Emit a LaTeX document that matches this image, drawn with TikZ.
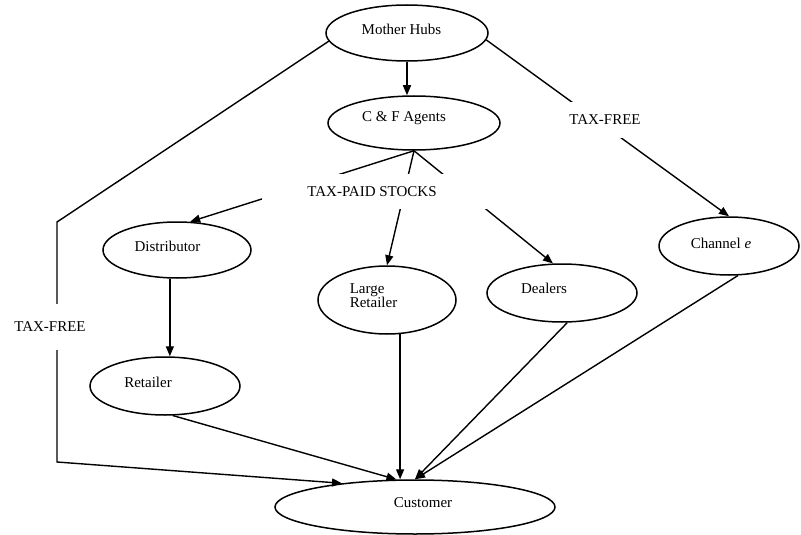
\documentclass[tikz,border=0pt]{standalone}
\usepackage{fontspec}
\setmainfont{Liberation Serif}
\usetikzlibrary{shapes.geometric,arrows.meta}
\begin{document}
\begin{tikzpicture}[x=1pt,y=-1pt,
  ell/.style={draw, ellipse, line width=1.5pt, inner sep=0pt},
  lbl/.style={font=\fontsize{15}{14}\selectfont},
  conn/.style={line width=1.4pt},
  arr/.style={conn, -{Triangle[length=10pt,width=8pt]}},
  gap/.style={fill=white, inner sep=0pt, font=\fontsize{15}{14}\selectfont}]
\useasboundingbox (0,0) rectangle (801,535);

\node[ell, minimum width=162pt, minimum height=56pt,
  label={[lbl,xshift=-5.5pt,yshift=4pt]center:Mother Hubs}] (mh) at (407,33) {};
\node[ell, minimum width=172pt, minimum height=54pt,
  label={[lbl,xshift=-10pt,yshift=5pt]center:C \& F Agents}] (cf) at (414,123) {};
\node[ell, minimum width=148pt, minimum height=56pt,
  label={[lbl,xshift=-9.5pt,yshift=4pt]center:Distributor}] (dist) at (177,250) {};
\node[ell, minimum width=138pt, minimum height=68pt,
  label={[lbl,align=left,xshift=-13.5pt,yshift=4pt]center:Large\\Retailer}] (lr) at (387,300) {};
\node[ell, minimum width=150pt, minimum height=58pt,
  label={[lbl,xshift=-18pt,yshift=5pt]center:Dealers}] (deal) at (562,293) {};
\node[ell, minimum width=140pt, minimum height=58pt,
  label={[lbl,xshift=-8pt,yshift=3pt]center:Channel \textit{e}}] (ch) at (729,246) {};
\node[ell, minimum width=150pt, minimum height=58pt,
  label={[lbl,xshift=-17pt,yshift=4pt]center:Retailer}] (ret) at (165,386) {};
\node[ell, minimum width=280pt, minimum height=54pt,
  label={[lbl,xshift=8pt,yshift=4pt]center:Customer}] (cust) at (415,507) {};

\coordinate (tl) at (57,222);
\coordinate (bl) at (57,462);

% connectors
\draw[arr] (mh.south) -- (mh.south |- cf.north);
\draw[arr] (cf.south) -- (dist.65);
\draw[arr] (cf.south) -- (lr.north);
\draw[arr] (cf.south) -- (deal.107);
\draw[arr] (mh.-5) -- (ch.north);
\draw[arr] (mh.186) -- (tl) -- (bl) -- (cust.162);
\draw[arr] (dist.256) -- (dist.256 |- ret.north);
\draw[arr] (ret.285) -- (cust.124);
\draw[arr] (lr.291) -- (lr.291 |- cust.north);
\draw[arr] (deal.280) -- (cust.north);
\draw[arr] (ch.287) -- (cust.north);

% labels on connectors
\node[gap, minimum width=228pt, minimum height=35pt] (tps) at (376,191.5) {\hspace*{-8pt}TAX-PAID STOCKS};
\node[gap, minimum width=80pt, minimum height=36pt] (tfr) at (605,120) {TAX-FREE};
\node[gap, minimum width=82pt, minimum height=46pt] (tfl) at (50,327) {TAX-FREE};
\end{tikzpicture}
\end{document}
